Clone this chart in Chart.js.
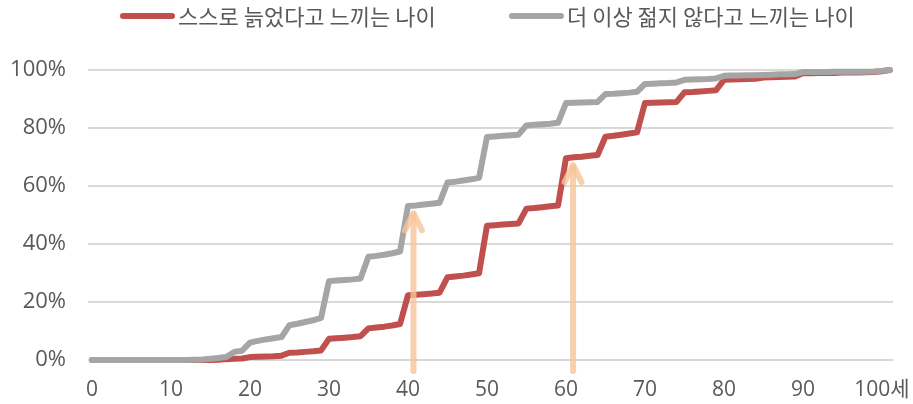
<!DOCTYPE html>
<html>
<head>
<meta charset="utf-8">
<script src="https://cdn.jsdelivr.net/npm/chart.js@4.4.1/dist/chart.umd.min.js"></script>
<style>
  html, body { margin: 0; padding: 0; background: #fff; }
  #wrap { width: 913px; height: 404px; }
</style>
</head>
<body>
<div id="wrap"><canvas id="age"></canvas></div>
<script>
//Ages (x)
const ages = [0,1,2,3,4,5,6,7,8,9,10,11,12,13,14,15,16,17,18,19,20,21,22,23,24,25,26,27,28,29,30,31,32,33,34,35,36,37,38,39,40,41,42,43,44,45,46,47,48,49,50,51,52,53,54,55,56,57,58,59,60,61,62,63,64,65,66,67,68,69,70,71,72,73,74,75,76,77,78,79,80,81,82,83,84,85,86,87,88,89,90,91,92,93,94,95,96,97,98,99,100,101];

//Cumulative share (%) - felt old
const feltOld = [0,0,0,0,0,0,0,0,0,0,0,0,0,0,0,0,0.1,0.3,0.4,0.5,
  1.0,1.1,1.2,1.3,1.5, 2.5,2.6,2.8,3.0,3.3, 7.3,7.5,7.7,7.9,8.2, 10.9,11.2,11.5,11.9,12.4,
  22.3,22.5,22.7,22.9,23.2, 28.5,28.8,29.1,29.5,29.9, 46.3,46.5,46.7,46.9,47.1, 52.2,52.4,52.7,53.0,53.3,
  69.6,69.9,70.1,70.4,70.7, 77.0,77.3,77.7,78.1,78.5, 88.6,88.7,88.8,88.9,89.0, 92.3,92.4,92.6,92.8,93.0,
  96.6,96.7,96.8,96.9,97.0, 97.4,97.5,97.6,97.7,97.8, 98.9,98.9,99.0,99.0,99.0, 99.1,99.1,99.1,99.2,99.3,
  99.6,100];

//Cumulative share (%) - no longer young
const notYoung = [0,0,0,0,0,0,0,0,0,0,0,0,0,0.1,0.2,0.4,0.7,1.0,2.8,3.2,
  6.0,6.6,7.1,7.5,7.9, 12.0,12.5,13.1,13.7,14.5, 27.2,27.4,27.6,27.8,28.1, 35.6,35.9,36.3,36.8,37.4,
  53.1,53.3,53.6,53.9,54.2, 61.2,61.5,61.9,62.3,62.8, 76.9,77.1,77.3,77.5,77.7, 80.9,81.1,81.3,81.5,81.8,
  88.6,88.7,88.8,88.9,89.0, 91.7,91.8,92.0,92.2,92.5, 95.2,95.3,95.4,95.5,95.7, 96.6,96.7,96.8,96.9,97.1,
  98.0,98.1,98.1,98.2,98.2, 98.3,98.4,98.5,98.5,98.6, 99.3,99.3,99.3,99.3,99.4, 99.4,99.4,99.4,99.4,99.5,
  99.7,100];

const seriesNames = ["스스로 늙었다고 느끼는 나이", "더 이상 젊지 않다고 느끼는 나이"];
const xTicks = [0, 10, 20, 30, 40, 50, 60, 70, 80, 90, 100];

//Arrows: age, tip value, base value
const arrowAges = [40.7, 60.9];
const arrowTips = [50.6, 67.2];
const arrowBase = -3.8;

const fontFamily = "'Open Sans', 'Noto Sans CJK KR'";
const textColor = "#595959";

const toPoints = (vals) => vals.map((v, i) => ({ x: ages[i], y: v }));

//Legend row at the top
const topLegend = {
    id: "topLegend",
    afterDraw(chart) {
        const ctx = chart.ctx;
        const sets = chart.data.datasets;
        const startX = [120, 509];
        const barW = 55, gapText = 3, y = 17;
        ctx.save();
        ctx.font = "22px 'Noto Sans CJK KR'";
        sets.forEach((ds, i) => {
            const x = startX[i];
            ctx.strokeStyle = ds.borderColor;
            ctx.lineWidth = 6;
            ctx.lineCap = "round";
            ctx.beginPath();
            ctx.moveTo(x + 3, y - 1);
            ctx.lineTo(x + barW - 3, y - 1);
            ctx.stroke();
            ctx.fillStyle = textColor;
            ctx.textBaseline = "middle";
            ctx.textAlign = "left";
            ctx.fillText(ds.label, x + barW + gapText, y);
        });
        ctx.restore();
    }
};

//Up arrows at the given ages
const upArrows = {
    id: "upArrows",
    afterDatasetsDraw(chart) {
        const ctx = chart.ctx;
        const xs = chart.scales.x, ys = chart.scales.y;
        ctx.save();
        ctx.strokeStyle = "rgba(248, 196, 152, 0.8)";
        ctx.lineWidth = 6;
        ctx.lineCap = "round";
        ctx.lineJoin = "round";
        arrowAges.forEach((age, i) => {
            const px = xs.getPixelForValue(age);
            const top = ys.getPixelForValue(arrowTips[i]);
            const bottom = ys.getPixelForValue(arrowBase);
            ctx.beginPath();
            ctx.moveTo(px, bottom);
            ctx.lineTo(px, top + 2);
            ctx.stroke();
            ctx.beginPath();
            ctx.moveTo(px - 8.5, top + 17);
            ctx.lineTo(px, top);
            ctx.lineTo(px + 8.5, top + 17);
            ctx.stroke();
        });
        ctx.restore();
    }
};

new Chart(document.getElementById("age"), {
    type: "line",
    data: {
        datasets: [
            {
                label: seriesNames[0],
                data: toPoints(feltOld),
                borderColor: "#C0504D",
                order: 2
            },
            {
                label: seriesNames[1],
                data: toPoints(notYoung),
                borderColor: "#A5A5A5",
                order: 1
            }
        ]
    },
    options: {
        responsive: true,
        maintainAspectRatio: false,
        animation: false,
        layout: { padding: { top: 70, left: 8, right: 20, bottom: 0 } },
        elements: {
            line: { borderWidth: 6, tension: 0, borderCapStyle: "round", borderJoinStyle: "round" },
            point: { radius: 0 }
        },
        datasets: { line: { clip: false } },
        plugins: {
            legend: { display: false },
            tooltip: { enabled: false }
        },
        scales: {
            x: {
                type: "linear",
                min: -0.5,
                max: 101.4,
                grid: { display: false },
                border: { display: false },
                afterBuildTicks: (axis) => { axis.ticks = xTicks.map(v => ({ value: v })); },
                afterFit: (axis) => {
                    axis.height = 44;
                    axis.paddingLeft = 0;
                    axis.paddingRight = 0;
                },
                ticks: {
                    padding: 9,
                    maxRotation: 0,
                    autoSkip: false,
                    color: textColor,
                    font: { family: fontFamily, size: 21 },
                    callback: (v) => v === 100 ? "100세" : String(v)
                }
            },
            y: {
                min: 0,
                max: 100,
                grid: { color: "#D9D9D9", lineWidth: 2, drawTicks: false },
                border: { display: false },
                afterFit: (axis) => { axis.width = 80; },
                ticks: {
                    stepSize: 20,
                    padding: 22,
                    color: textColor,
                    font: { family: fontFamily, size: 22 },
                    callback: (v) => v + "%"
                }
            }
        }
    },
    plugins: [topLegend, upArrows]
});
</script>
</body>
</html>
